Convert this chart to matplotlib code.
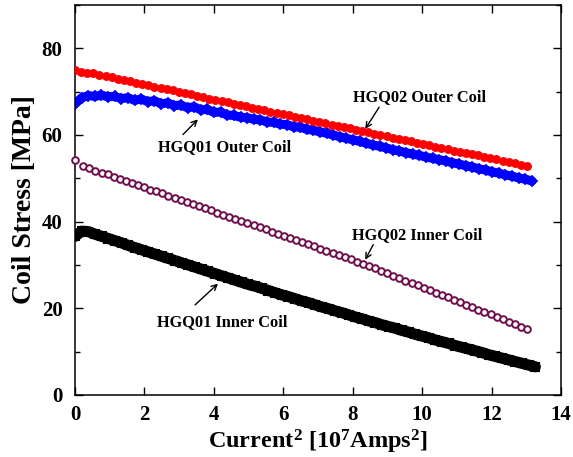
import numpy as np
import matplotlib
matplotlib.use("Agg")
import matplotlib.pyplot as plt

# ---------------- data ----------------
hgq02_outer = [75.1, 74.6, 74.4, 74.2, 73.8, 73.5, 73.3, 72.9, 72.6, 72.4,
               72.0, 71.7, 71.5, 71.1, 70.8, 70.5, 70.3, 69.9, 69.6, 69.4,
               69.0, 68.7, 68.4, 68.1, 67.8, 67.6, 67.2, 66.9, 66.7, 66.3,
               66.0, 65.8, 65.4, 65.1, 64.8, 64.6, 64.2, 63.9, 63.7, 63.3,
               63.0, 62.8, 62.4, 62.1, 61.9, 61.5, 61.2, 60.9, 60.6, 60.3,
               60.0, 59.7, 59.4, 59.1, 58.8, 58.6, 58.2, 57.9, 57.7, 57.3,
               57.0, 56.8, 56.4, 56.1, 55.8, 55.5, 55.3, 54.9, 54.6, 54.4,
               54.0, 53.7, 53.5, 53.1, 52.8]
hgq02_outer_x = (0.0, 13.02)

hgq02_inner_first = (0.0, 54.3)
hgq02_inner = [52.8, 52.3, 51.8, 51.3, 50.9, 50.4, 49.9, 49.4, 48.9, 48.4,
               47.9, 47.4, 47.0, 46.5, 46.0, 45.5, 45.0, 44.5, 44.0, 43.5,
               43.1, 42.6, 42.1, 41.6, 41.1, 40.6, 40.1, 39.6, 39.2, 38.7,
               38.2, 37.7, 37.2, 36.7, 36.2, 35.8, 35.3, 34.8, 34.3, 33.8,
               33.3, 32.8, 32.4, 31.9, 31.4, 30.8, 30.3, 29.7, 29.2, 28.6,
               28.1, 27.5, 26.9, 26.4, 25.8, 25.3, 24.7, 24.2, 23.6, 23.1,
               22.5, 21.9, 21.4, 20.8, 20.3, 19.7, 19.2, 18.6, 18.1, 17.5,
               16.9, 16.4, 15.8, 15.3]
hgq02_inner_x = (0.24, 13.02)

hgq01_outer = [67.2, 68.6, 69.1, 68.9, 69.2, 68.8, 68.9, 68.4, 68.6, 68.0,
               68.3, 67.7, 67.9, 67.2, 67.4, 66.8, 66.9, 66.3, 66.5, 65.8,
               65.9, 65.2, 65.3, 64.6, 64.5, 64.1, 64.0, 63.6, 63.5, 63.0,
               62.9, 62.5, 62.4, 61.9, 61.8, 61.3, 61.1, 60.7, 60.4, 60.0,
               59.6, 59.2, 58.9, 58.5, 58.1, 57.7, 57.4, 57.0, 56.6, 56.3,
               55.9, 55.6, 55.3, 54.9, 54.6, 54.3, 54.0, 53.6, 53.3, 52.9,
               52.6, 52.2, 51.9, 51.5, 51.2, 50.8, 50.5, 50.1, 49.8, 49.4]
hgq01_outer_x = (0.0, 13.16)

hgq01_inner = [36.6, 37.8, 37.7, 37.1, 36.6, 36.1, 35.6, 35.1, 34.5, 34.0,
               33.5, 33.0, 32.5, 32.0, 31.5, 31.0, 30.5, 30.0, 29.5, 29.0,
               28.5, 28.0, 27.5, 27.0, 26.5, 26.0, 25.5, 25.1, 24.6, 24.1,
               23.6, 23.1, 22.7, 22.2, 21.7, 21.3, 20.8, 20.3, 19.9, 19.4,
               19.0, 18.5, 18.0, 17.6, 17.1, 16.7, 16.2, 15.8, 15.4, 14.9,
               14.5, 14.0, 13.6, 13.2, 12.7, 12.3, 11.9, 11.4, 11.0, 10.6,
               10.2, 9.8, 9.3, 8.9, 8.5, 8.1, 7.7, 7.3, 6.9, 6.5]
hgq01_inner_x = (0.0, 13.26)

x_ticks = [0, 2, 4, 6, 8, 10, 12, 14]
y_ticks = [0, 20, 40, 60, 80]

# ---------------- style ----------------
plt.rcParams['font.family'] = ['Liberation Serif', 'DejaVu Serif']
plt.rcParams['font.weight'] = 'bold'
plt.rcParams['mathtext.fontset'] = 'custom'
plt.rcParams['mathtext.rm'] = 'Liberation Serif:bold'
plt.rcParams['mathtext.bf'] = 'Liberation Serif:bold'
plt.rcParams['mathtext.it'] = 'Liberation Serif:bold'

fig = plt.figure(figsize=(5.73, 4.57), dpi=100)
ax = fig.add_axes([0.1309, 0.1357, 0.8482, 0.8534])

purple = '#6e0f4c'

def xs(rng, vals):
    return np.linspace(rng[0], rng[1], len(vals))

# HGQ01 inner (black band of open squares)
ax.plot(xs(hgq01_inner_x, hgq01_inner), hgq01_inner, color='black', lw=8,
        marker='s', ms=6, mfc='none', mec='black', mew=1.5, zorder=2,
        solid_capstyle='round')
# HGQ01 outer (blue band of open diamonds)
ax.plot(xs(hgq01_outer_x, hgq01_outer), hgq01_outer, color='#0000ff', lw=6.5,
        marker='D', ms=5.5, mfc='none', mec='#0000ff', mew=1.3, zorder=2,
        solid_capstyle='round')
# HGQ02 outer (red filled circles)
ax.plot(xs(hgq02_outer_x, hgq02_outer), hgq02_outer, ls='none', marker='o',
        ms=5.4, color='#ff0000', mec='#ff0000', zorder=3)
# HGQ02 inner (purple open circles)
ax.plot([hgq02_inner_first[0]], [hgq02_inner_first[1]], ls='none', marker='o',
        ms=4.8, mfc='white', mec=purple, mew=1.4, zorder=3, clip_on=False)
ax.plot(xs(hgq02_inner_x, hgq02_inner), hgq02_inner, ls='none', marker='o',
        ms=4.8, mfc='white', mec=purple, mew=1.4, zorder=3)

ax.set_xlim(0, 14)
ax.set_ylim(0, 90)
ax.set_xticks(x_ticks)
ax.set_yticks(y_ticks)
ax.set_yticks([10, 30, 50, 70, 90], minor=True)
ax.tick_params(which='both', direction='in', top=True, right=True,
               labelsize=15, width=1)
ax.tick_params(which='major', length=6)
ax.tick_params(axis='y', which='major', pad=9)
ax.tick_params(axis='x', which='major', pad=7)
ax.tick_params(which='minor', length=3.5)
for lab in ax.get_xticklabels() + ax.get_yticklabels():
    lab.set_fontweight('bold')
for s in ax.spines.values():
    s.set_linewidth(1.1)

ax.set_xlabel(r'Current$^{2}$ [10$^{7}$Amps$^{2}$]', fontsize=17.5,
              fontweight='bold', labelpad=2)
ax.set_ylabel('Coil Stress [MPa]', fontsize=20, fontweight='bold',
              labelpad=3.5)

ann = dict(fontsize=11.8, fontweight='bold', ha='left', va='center')
arrow = dict(arrowstyle='->', color='black', lw=1.0, shrinkA=0, shrinkB=0)
ax.annotate('HGQ02 Outer Coil', xy=(0, 0), xytext=(8.0, 68.8), **ann)
ax.annotate('', xy=(8.36, 61.4), xytext=(8.76, 66.4), arrowprops=arrow)
ax.annotate('HGQ01 Outer Coil', xy=(0, 0), xytext=(2.39, 57.3), **ann)
ax.annotate('', xy=(3.54, 63.6), xytext=(3.11, 60.1), arrowprops=arrow)
ax.annotate('HGQ02 Inner Coil', xy=(0, 0), xytext=(7.99, 37.0), **ann)
ax.annotate('', xy=(8.36, 31.2), xytext=(8.59, 34.7), arrowprops=arrow)
ax.annotate('HGQ01 Inner Coil', xy=(0, 0), xytext=(2.36, 16.9), **ann)
ax.annotate('', xy=(4.12, 25.7), xytext=(3.46, 20.8), arrowprops=arrow)

fig.savefig('out.png', dpi=100)
